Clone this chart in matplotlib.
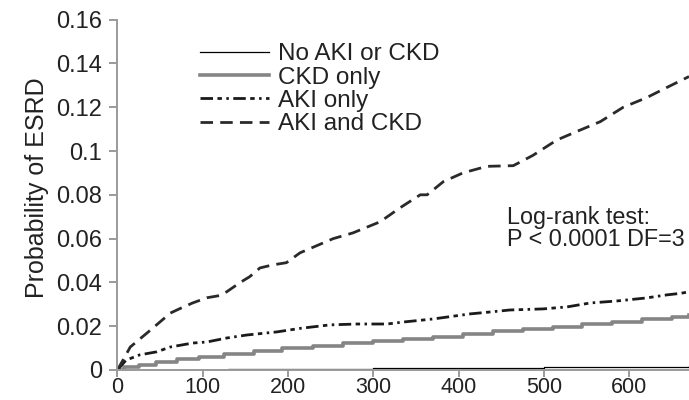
import matplotlib
matplotlib.use("Agg")
import matplotlib.pyplot as plt

plt.rcParams['font.family'] = ['Liberation Sans', 'DejaVu Sans']

# Kaplan-Meier cumulative probability of ESRD by group (days of follow-up)
none_days = [0, 60, 130, 200, 300, 400, 500, 600, 670]
none_prob = [0, 0.0002, 0.0003, 0.0005, 0.0007, 0.0009, 0.0012, 0.0015, 0.0018]

ckd_days = [0, 8, 25, 45, 70, 95, 125, 160, 193, 229, 264, 299, 335, 370,
            405, 440, 475, 510, 545, 580, 615, 650, 670]
ckd_prob = [0, 0.0015, 0.0025, 0.0035, 0.0048, 0.0060, 0.0072, 0.0087, 0.0099,
            0.0111, 0.0122, 0.0133, 0.0142, 0.0151, 0.0163, 0.0178, 0.0188,
            0.0197, 0.0210, 0.0220, 0.0231, 0.0243, 0.0250]

aki_days = [0, 10, 26, 46, 62, 88, 105, 128, 152, 187, 214, 249, 281, 316, 335,
            370, 413, 437, 460, 499, 527, 554, 585, 620, 644, 660, 670]
aki_prob = [0, 0.0045, 0.0069, 0.0083, 0.0105, 0.0123, 0.0128, 0.0146, 0.0160,
            0.0174, 0.0190, 0.0206, 0.0210, 0.0210, 0.0219, 0.0233, 0.0256,
            0.0265, 0.0274, 0.0279, 0.0288, 0.0306, 0.0315, 0.0329, 0.0343,
            0.0350, 0.0357]

both_days = [0, 15, 38, 62, 73, 88, 105, 120, 128, 144, 155, 167, 182, 198, 214,
             229, 253, 276, 308, 331, 355, 363, 382, 405, 433, 464, 487, 515,
             539, 566, 593, 620, 644, 670]
both_prob = [0, 0.0105, 0.0180, 0.0260, 0.0280, 0.0306, 0.0330, 0.0340, 0.0357,
             0.0400, 0.0426, 0.0466, 0.0480, 0.0490, 0.0535, 0.0560, 0.0600,
             0.0626, 0.0677, 0.0740, 0.0800, 0.0800, 0.0860, 0.0900, 0.0930,
             0.0933, 0.0980, 0.1050, 0.1090, 0.1134, 0.1200, 0.1243, 0.1290,
             0.1340]

labels = ["No AKI or CKD", "CKD only", "AKI only", "AKI and CKD"]
x_ticks = [0, 100, 200, 300, 400, 500, 600]
y_ticks = [0, 0.02, 0.04, 0.06, 0.08, 0.1, 0.12, 0.14, 0.16]
y_ticklabels = ["0", "0.02", "0.04", "0.06", "0.08", "0.1", "0.12", "0.14", "0.16"]

fig = plt.figure(figsize=(6.89, 4.0), dpi=100)
ax = fig.add_axes([0.1705, 0.075, 0.8295, 0.876])

ax.plot(none_days, none_prob, color="black", lw=0.9, drawstyle="steps-post",
        label=labels[0])
ax.plot(ckd_days, ckd_prob, color="#858585", lw=2.6, drawstyle="steps-post",
        label=labels[1])
ax.plot(aki_days, aki_prob, color="#1a1a1a", lw=2.0,
        linestyle=(0, (4.5, 1.6, 1.6, 1.6, 0.9, 1.6)), label=labels[2])
ax.plot(both_days, both_prob, color="#2a2a2a", lw=2.0,
        linestyle=(0, (4.5, 2.6)), label=labels[3])

ax.set_xlim(0, 670)
ax.set_ylim(0, 0.16)
ax.set_xticks(x_ticks)
ax.set_yticks(y_ticks)
ax.set_yticklabels(y_ticklabels)

for side in ("top", "right"):
    ax.spines[side].set_visible(False)
for side in ("left", "bottom"):
    ax.spines[side].set_color("#9a9a9a")
    ax.spines[side].set_linewidth(1.4)
ax.tick_params(axis="both", direction="out", length=6, width=1.4,
               color="#9a9a9a", labelsize=17, labelcolor="#222222")
ax.tick_params(axis="y", pad=5)
ax.tick_params(axis="x", pad=0, length=5, labelsize=15.5)

ax.set_ylabel("Probability of ESRD", fontsize=18, color="#222222")
ax.yaxis.set_label_coords(-0.12, 0.521)

leg = ax.legend(loc="upper left", bbox_to_anchor=(0.144, 0.932), frameon=False,
                fontsize=17.5, handlelength=2.85, handletextpad=0.35,
                labelspacing=0.05, borderpad=0, borderaxespad=0)
for t in leg.get_texts():
    t.set_color("#222222")

ax.text(0.6815, 0.468, "Log-rank test:\nP < 0.0001 DF=3", transform=ax.transAxes,
        fontsize=16.8, color="#222222", ha="left", va="top", linespacing=0.92)

fig.savefig("out.png", dpi=100)
